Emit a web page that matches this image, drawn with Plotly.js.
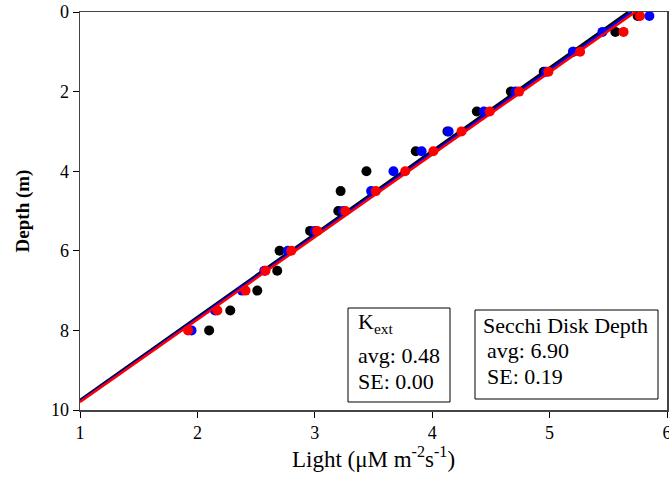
<!DOCTYPE html>
<html>
<head>
<meta charset="utf-8">
<script src="https://cdn.plot.ly/plotly-3.0.1.min.js"></script>
<style>html,body{margin:0;padding:0;background:#fff;}#chart{width:669px;height:499px;}</style>
</head>
<body>
<div id="chart"></div>
<script>
// Depth of each light reading (m)
const depths = [0.1, 0.5, 1, 1.5, 2, 2.5, 3, 3.5, 4, 4.5, 5, 5.5, 6, 6.5, 7, 7.5, 8];
// Light values for the three series
const lightBlack = [5.75, 5.56, 5.20, 4.95, 4.67, 4.38, 4.13, 3.86, 3.44, 3.22, 3.20, 2.96, 2.70, 2.68, 2.51, 2.28, 2.10];
const lightBlue  = [5.85, 5.45, 5.20, 4.97, 4.71, 4.44, 4.14, 3.91, 3.67, 3.48, 3.24, 3.00, 2.77, 2.57, 2.38, 2.15, 1.95];
const lightRed   = [5.77, 5.63, 5.26, 4.99, 4.74, 4.49, 4.25, 4.01, 3.77, 3.52, 3.26, 3.02, 2.80, 2.58, 2.41, 2.17, 1.92];
// Fitted regression lines (light, depth end points)
const fitBlackX = [1, 5.67], fitBlackY = [9.75, 0];
const fitBlueX  = [1, 5.70], fitBlueY  = [9.78, 0];
const fitRedX   = [1, 5.73], fitRedY   = [9.80, 0];
// Axis ticks
const xTicks = [1, 2, 3, 4, 5, 6];
const yTicks = [0, 2, 4, 6, 8, 10];
// Box texts
const kextLines = ["K<sub>ext</sub>", "avg: 0.48", "SE: 0.00"];
const secchiLines = ["Secchi Disk Depth", "avg: 6.90", "SE: 0.19"];

const FONT = "Liberation Serif, Times New Roman, serif";
const L = 80, T = 12, W = 587, H = 398;
const px = x => (x - L) / W;
const py = y => (T + H - y) / H;

function series(xs, ys, fx, fy, color) {
  return [
    {x: fx, y: fy, mode: 'lines', line: {color: color, width: 2.5}, hoverinfo: 'skip', showlegend: false, cliponaxis: true},
    {x: xs, y: ys, mode: 'markers', marker: {color: color, size: 10}, showlegend: false, cliponaxis: false}
  ];
}

const data = [].concat(
  series(lightBlack, depths, fitBlackX, fitBlackY, '#000000'),
  series(lightBlue, depths, fitBlueX, fitBlueY, '#0000ff'),
  series(lightRed, depths, fitRedX, fitRedY, '#ff0000')
);

const annotations = [];
const k_y = [323, 355, 381];
kextLines.forEach((t, i) => annotations.push({xref: 'paper', yref: 'paper', x: px(356), y: py(k_y[i]), xanchor: 'left', yanchor: 'middle', text: t, showarrow: false, font: {family: FONT, size: 22, color: '#000'}}));
const s_y = [325, 350, 376];
const s_x = [481, 485, 485];
secchiLines.forEach((t, i) => annotations.push({xref: 'paper', yref: 'paper', x: px(s_x[i]), y: py(s_y[i]), xanchor: 'left', yanchor: 'middle', text: t, showarrow: false, font: {family: FONT, size: 22, color: '#000'}}));

const shapes = [
  {type: 'rect', xref: 'paper', yref: 'paper', x0: px(348), x1: px(450), y0: py(402), y1: py(308), line: {color: '#000', width: 1}},
  {type: 'rect', xref: 'paper', yref: 'paper', x0: px(475), x1: px(658), y0: py(399), y1: py(310), line: {color: '#000', width: 1}}
];

const layout = {
  width: 669, height: 499,
  margin: {l: L, r: 669 - L - W, t: T, b: 499 - T - H, pad: 0},
  paper_bgcolor: '#fff', plot_bgcolor: '#fff',
  font: {family: FONT, color: '#000'},
  showlegend: false,
  xaxis: {
    range: [1, 6], tickvals: xTicks, ticktext: xTicks.map(String),
    ticks: 'outside', ticklen: 6, tickwidth: 1, tickcolor: '#000',
    showline: true, linecolor: '#444', linewidth: 1.5, mirror: true,
    showgrid: false, zeroline: false, ticklabeloverflow: 'allow',
    tickfont: {family: FONT, size: 18, color: '#000'},
    title: {text: 'Light (μM m<sup>-2</sup>s<sup>-1</sup>)', font: {family: FONT, size: 23, color: '#000'}, standoff: 8}
  },
  yaxis: {
    range: [10, 0], tickvals: yTicks, ticktext: yTicks.map(String),
    ticks: 'outside', ticklen: 6, tickwidth: 1, tickcolor: '#000',
    showline: true, linecolor: '#444', linewidth: 1.5, mirror: true,
    showgrid: false, zeroline: false,
    tickfont: {family: FONT, size: 18, color: '#000'},
    title: {text: '<b>Depth (m)</b>', font: {family: FONT, size: 19, color: '#000'}, standoff: 16}
  },
  annotations: annotations,
  shapes: shapes
};

Plotly.newPlot('chart', data, layout, {staticPlot: true, displayModeBar: false});
</script>
</body>
</html>
